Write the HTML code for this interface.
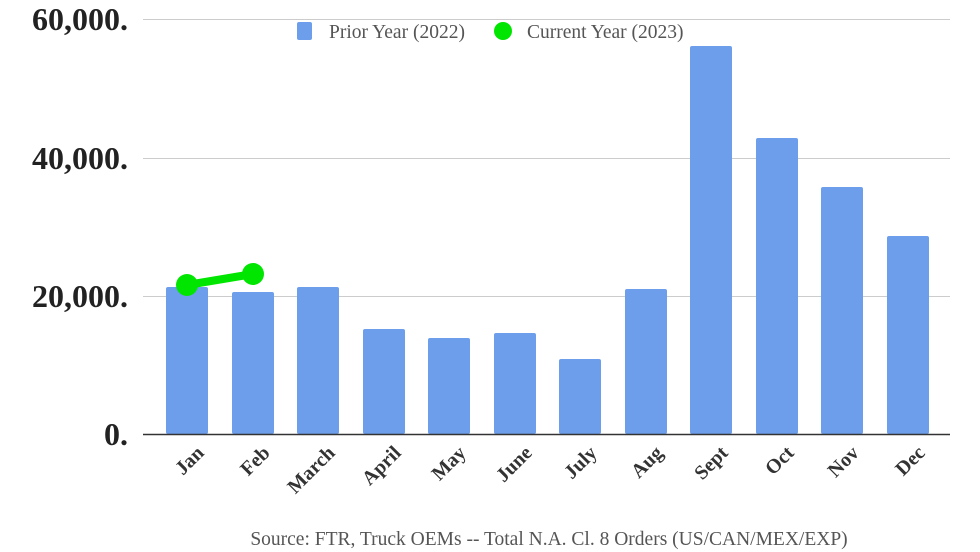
<!DOCTYPE html>
<html><head><meta charset="utf-8"><style>body{margin:0;background:#fff}svg{display:block}</style></head>
<body>
<svg width="980" height="552" xmlns="http://www.w3.org/2000/svg" font-family="Liberation Serif, serif">
<g stroke="#cccccc" stroke-width="1">
<line x1="143" y1="19.5" x2="950" y2="19.5"/>
<line x1="143" y1="158.5" x2="950" y2="158.5"/>
<line x1="143" y1="296.5" x2="950" y2="296.5"/>
</g>
<g font-size="32" font-weight="bold" fill="#222" text-anchor="end">
<text x="128" y="30">60,000.</text>
<text x="128" y="169">40,000.</text>
<text x="128" y="307">20,000.</text>
<text x="128" y="445">0.</text>
</g>
<g fill="#6d9eeb">
<rect x="166" y="287" width="42" height="147" rx="2"/>
<rect x="232" y="292" width="42" height="142" rx="2"/>
<rect x="297" y="287" width="42" height="147" rx="2"/>
<rect x="363" y="329" width="42" height="105" rx="2"/>
<rect x="428" y="338" width="42" height="96" rx="2"/>
<rect x="494" y="333" width="42" height="101" rx="2"/>
<rect x="559" y="359" width="42" height="75" rx="2"/>
<rect x="625" y="289" width="42" height="145" rx="2"/>
<rect x="690" y="46" width="42" height="388" rx="2"/>
<rect x="756" y="138" width="42" height="296" rx="2"/>
<rect x="821" y="187" width="42" height="247" rx="2"/>
<rect x="887" y="236" width="42" height="198" rx="2"/>
</g>
<line x1="143" y1="434.5" x2="950" y2="434.5" stroke="#333" stroke-width="1.5"/>
<line x1="187" y1="285" x2="253" y2="274" stroke="#00e600" stroke-width="8"/>
<circle cx="187" cy="285" r="11" fill="#00e600"/>
<circle cx="253" cy="274" r="11" fill="#00e600"/>
<g font-size="20" font-weight="bold" fill="#333" text-anchor="end">
<text transform="translate(205,454) rotate(-45)">Jan</text>
<text transform="translate(271,454) rotate(-45)">Feb</text>
<text transform="translate(336,454) rotate(-45)">March</text>
<text transform="translate(402,454) rotate(-45)">April</text>
<text transform="translate(467,454) rotate(-45)">May</text>
<text transform="translate(533,454) rotate(-45)">June</text>
<text transform="translate(598,454) rotate(-45)">July</text>
<text transform="translate(664,454) rotate(-45)">Aug</text>
<text transform="translate(729,454) rotate(-45)">Sept</text>
<text transform="translate(795,454) rotate(-45)">Oct</text>
<text transform="translate(860,454) rotate(-45)">Nov</text>
<text transform="translate(926,454) rotate(-45)">Dec</text>
</g>
<rect x="297" y="22" width="15" height="18" rx="2" fill="#6d9eeb"/>
<text x="329" y="38" font-size="19.5" fill="#555">Prior Year (2022)</text>
<circle cx="503" cy="31" r="9" fill="#00e600"/>
<text x="527" y="38" font-size="19.5" fill="#555">Current Year (2023)</text>
<text x="549" y="545" font-size="19.5" fill="#555" text-anchor="middle">Source: FTR, Truck OEMs -- Total N.A. Cl. 8 Orders (US/CAN/MEX/EXP)</text>
</svg>
</body></html>
